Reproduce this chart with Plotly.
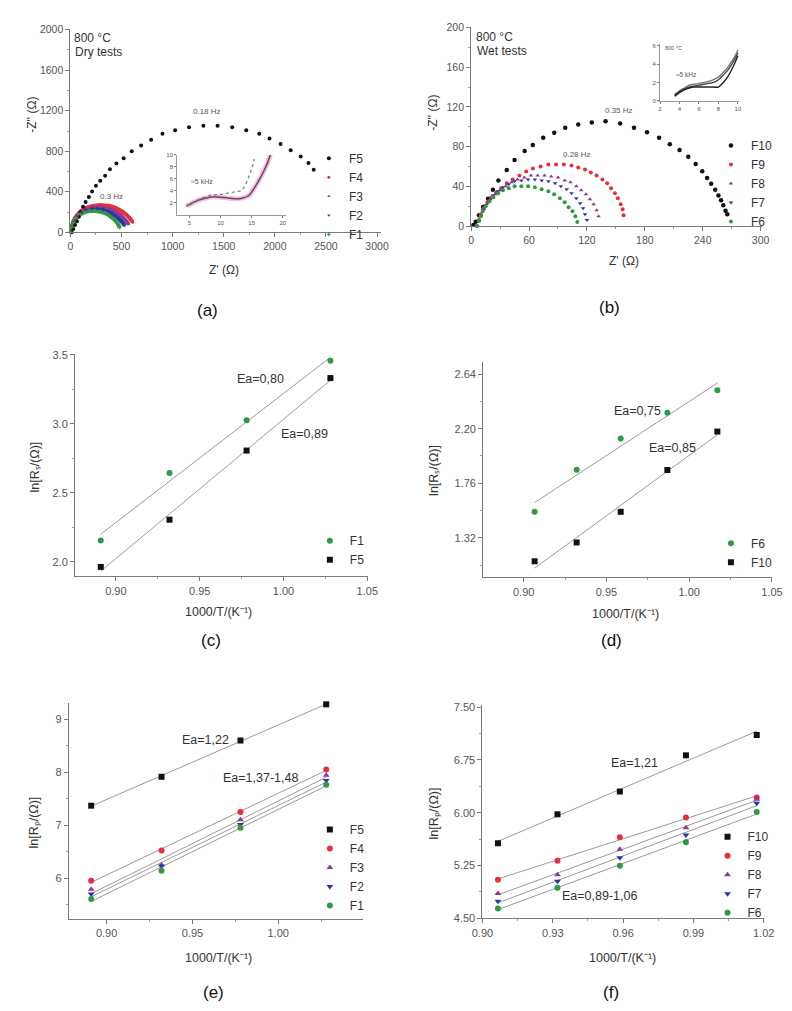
import numpy as np
import plotly.graph_objects as go

W, H = 792, 1011
FONT = "Liberation Sans, Arial, sans-serif"

# ---------------- data ----------------
# (a) Nyquist, dry tests, 800 C
A_F5_X = [12, 29, 45, 64, 83, 102, 124, 149, 181, 212, 250, 292, 340, 387, 450, 521, 600, 692, 790, 901,
          1025, 1161, 1301, 1440, 1583, 1720, 1847, 1948, 2056, 2155, 2253, 2329, 2380]
A_F5_Y = [0, 32, 71, 110, 153, 202, 251, 300, 348, 403, 459, 510, 559, 622, 680, 732, 800, 856, 914, 973,
          1008, 1038, 1051, 1051, 1038, 1008, 973, 925, 872, 810, 748, 683, 618]
A_F4_X = [0, 15, 35, 70, 120, 180, 250, 310, 370, 430, 490, 540, 580, 610]
A_F4_Y = [0, 60, 120, 175, 220, 250, 265, 268, 262, 245, 215, 180, 140, 100]
A_F3_X = [0, 15, 35, 70, 115, 170, 230, 290, 350, 410, 460, 510, 545, 571]
A_F3_Y = [0, 58, 112, 165, 205, 232, 245, 246, 238, 218, 188, 150, 112, 78]
A_F2_X = [0, 14, 33, 65, 105, 155, 210, 265, 320, 375, 425, 470, 505, 530]
A_F2_Y = [0, 55, 105, 155, 192, 215, 228, 228, 220, 200, 170, 135, 100, 65]
A_F1_X = [0, 13, 30, 60, 98, 145, 195, 245, 295, 345, 390, 430, 460, 482]
A_F1_Y = [0, 50, 97, 143, 178, 200, 210, 210, 202, 185, 158, 125, 90, 46]
# inset of (a)
AI_LOW_X = [4.5, 5.5, 6.5, 7.5, 8.5, 9.5, 10.5, 11.5, 12.5, 13.5, 14.5, 15.5, 16.3, 17.0, 17.6, 18.0]
AI_LOW_Y = [1.5, 2.0, 2.5, 2.8, 3.0, 3.0, 2.9, 2.8, 2.7, 2.8, 3.2, 4.6, 6.0, 7.4, 8.8, 10.0]
AI_UP_X = [4.5, 5.5, 6.5, 7.5, 8.5, 9.5, 10.5, 11.5, 12.5, 13.4, 14.1, 14.7, 15.1, 15.4]
AI_UP_Y = [1.5, 2.1, 2.6, 3.0, 3.3, 3.4, 3.5, 3.7, 3.9, 4.1, 5.3, 6.8, 8.0, 9.3]

# (b) Nyquist, wet tests, 800 C
B_F10_X = [2.3, 4.7, 8.1, 12.4, 17.5, 22.5, 28.2, 36.9, 45, 55.5, 63.9, 74.7, 86.1, 97.5, 111, 125.1, 139.3,
           154.4, 168.8, 182.3, 194.8, 205.9, 216, 225, 232.7, 239.5, 244.5, 248.8, 252.9, 256.3, 259, 261.3,
           263.7, 265.5]
B_F10_Y = [1, 4.4, 11, 19.3, 27.6, 36.5, 45.8, 56.4, 66.4, 75.6, 81.6, 89, 93.9, 98.9, 102.2, 104.2, 105.5,
           103.2, 98.9, 94.5, 89, 82.3, 76.6, 69.7, 62.4, 55.1, 48.5, 42.5, 36.5, 30.8, 25.9, 20.9, 15.3, 12]
B_F9_X = [6, 8, 10, 13, 17, 21, 26, 31, 37, 43, 50, 57, 64, 72, 80, 88, 96, 104, 111, 118, 124, 130, 136, 141,
          145, 149, 152, 155, 157, 158]
B_F9_Y = [0, 6, 12, 18, 24, 29, 34, 38, 43, 47, 51, 55, 58, 60, 62, 62, 62, 61, 59, 57, 54, 51, 47, 43, 38, 33,
          28, 22, 17, 11]
B_F8_X = [6, 8, 10, 13, 16, 20, 25, 30, 36, 42, 48, 55, 62, 69, 76, 83, 90, 97, 103, 109, 114, 119, 123, 127,
          130, 132]
B_F8_Y = [0, 6, 11, 17, 22, 27, 32, 36, 40, 44, 47, 49, 51, 51, 51, 50, 49, 46, 44, 40, 36, 32, 27, 22, 16, 10]
B_F7_X = [6, 8, 10, 12, 15, 19, 23, 28, 33, 39, 45, 52, 59, 66, 73, 80, 87, 93, 99, 104, 109, 113, 116, 118, 120]
B_F7_Y = [0, 5, 10, 16, 21, 26, 31, 35, 39, 42, 45, 46, 47, 47, 46, 45, 43, 40, 37, 33, 28, 23, 18, 12, 6]
B_F6_X = [6, 8, 10, 12, 15, 19, 23, 28, 33, 39, 45, 52, 59, 66, 73, 80, 86, 92, 97, 101, 105, 108, 110]
B_F6_Y = [0, 5, 10, 15, 20, 25, 29, 33, 36, 38, 40, 40, 40, 39, 37, 35, 32, 28, 24, 19, 15, 10, 4]
# inset of (b)
BI_X = [3.5, 4.0, 4.5, 5.0, 5.5, 6.0, 6.5, 7.0, 7.5, 8.0, 8.5, 9.0, 9.5, 10.0]
BI_Y1 = [0.7, 1.1, 1.4, 1.7, 1.8, 1.9, 2.0, 2.1, 2.3, 2.6, 3.1, 3.7, 4.5, 5.5]
BI_Y2 = [0.6, 1.0, 1.3, 1.5, 1.6, 1.7, 1.8, 1.9, 2.0, 2.3, 2.8, 3.4, 4.2, 5.2]
BI_Y3 = [0.5, 0.9, 1.2, 1.4, 1.5, 1.5, 1.5, 1.5, 1.5, 1.5, 2.0, 2.7, 3.7, 4.9]

# Arrhenius plots
T_INV_4 = [0.891, 0.932, 0.978, 1.028]
T_INV_5 = [0.9066, 0.932, 0.9586, 0.9868, 1.017]
C_F1 = [2.155, 2.645, 3.027, 3.457]
C_F5 = [1.964, 2.306, 2.807, 3.332]
D_F6 = [1.530, 1.870, 2.122, 2.329, 2.510]
D_F10 = [1.131, 1.283, 1.530, 1.867, 2.177]
E_F5 = [7.367, 7.912, 8.596, 9.278]
E_F4 = [5.95, 6.52, 7.25, 8.05]
E_F3 = [5.79, 6.25, 7.10, 7.94]
E_F2 = [5.70, 6.23, 7.01, 7.84]
E_F1 = [5.61, 6.14, 6.95, 7.76]
F_F10 = [5.566, 5.977, 6.300, 6.814, 7.103]
F_F9 = [5.047, 5.318, 5.650, 5.930, 6.215]
F_F8 = [4.851, 5.117, 5.482, 5.785, 6.191]
F_F7 = [4.743, 5.027, 5.360, 5.682, 6.135]
F_F6 = [4.640, 4.935, 5.248, 5.580, 6.009]

BLACK, RED, PURPLE, BLUE, GREEN = "#111111", "#e5303a", "#8a3a96", "#2a36a8", "#2f9a3f"
LINE_GRAY = "#9a9a9a"

# ---------------- helpers (page pixel -> paper fraction) ----------------
def pxx(x):
    return x / W

def pyy(y):
    return 1 - y / H

def xdom(a, b):
    return [pxx(a), pxx(b)]

def ydom(top, bottom):
    return [pyy(bottom), pyy(top)]

fig = go.Figure()

def axis(domain, rng, tickvals, fmt=None, size=11, minor_dtick=None, anchor=None):
    d = dict(domain=domain, range=rng, showline=True, linecolor="#7a7a7a", linewidth=1,
             ticks="outside", ticklen=4, tickcolor="#7a7a7a", tickwidth=1,
             tickfont=dict(family=FONT, size=size, color="#555555"),
             showgrid=False, zeroline=False, tickvals=tickvals, anchor=anchor)
    if fmt is not None:
        d["tickformat"] = fmt
    if minor_dtick is not None:
        d["minor"] = dict(ticks="outside", ticklen=2, tickcolor="#9a9a9a", dtick=minor_dtick, showgrid=False)
    return d

layout_axes = {}
# (a)
layout_axes["xaxis"] = axis(xdom(61, 380), [0, 3038], [0, 500, 1000, 1500, 2000, 2500, 3000], size=10.5,
                            minor_dtick=250, anchor="y")
layout_axes["yaxis"] = axis(ydom(23, 229), [0, 2010], [0, 400, 800, 1200, 1600, 2000], size=10.5,
                            minor_dtick=200, anchor="x")
# (b)
layout_axes["xaxis2"] = axis(xdom(472.7, 771.7), [0, 301.7], [0, 60, 120, 180, 240, 300], size=10.5,
                             minor_dtick=30, anchor="y2")
layout_axes["yaxis2"] = axis(ydom(21, 222.7), [0, 200.7], [0, 40, 80, 120, 160, 200], size=10.5,
                             minor_dtick=20, anchor="x2")
# (c)
layout_axes["xaxis3"] = axis(xdom(65.7, 366.7), [0.8756, 1.0504], [0.90, 0.95, 1.00, 1.05], fmt=".2f",
                             minor_dtick=0.025, anchor="y3")
layout_axes["yaxis3"] = axis(ydom(351.7, 577.3), [1.895, 3.51], [2.0, 2.5, 3.0, 3.5], fmt=".1f",
                             minor_dtick=0.25, anchor="x3")
# (d)
layout_axes["xaxis4"] = axis(xdom(485, 781.7), [0.8755, 1.0500], [0.90, 0.95, 1.00, 1.05], fmt=".2f",
                             minor_dtick=0.025, anchor="y4")
layout_axes["yaxis4"] = axis(ydom(360, 578.3), [1.001, 2.74], [1.32, 1.76, 2.20, 2.64], fmt=".2f",
                             minor_dtick=0.22, anchor="x4")
# (e)
layout_axes["xaxis5"] = axis(xdom(59.3, 361.7), [0.8779, 1.0495], [0.90, 0.95, 1.00, 1.05], fmt=".2f",
                             minor_dtick=0.025, anchor="y5")
layout_axes["yaxis5"] = axis(ydom(705, 924), [5.23, 9.31], [6, 7, 8, 9], fmt="d",
                             minor_dtick=0.5, anchor="x5")
# (f)
layout_axes["xaxis6"] = axis(xdom(484.3, 774), [0.90, 1.0203], [0.90, 0.93, 0.96, 0.99, 1.02], fmt=".2f",
                             minor_dtick=0.015, anchor="y6")
layout_axes["yaxis6"] = axis(ydom(707.3, 923.3), [4.5, 7.53], [4.5, 5.25, 6.0, 6.75, 7.5], fmt=".2f",
                             minor_dtick=0.375, anchor="x6")
# inset (a)
layout_axes["xaxis7"] = axis(xdom(170.7, 283), [3.03, 20.6], [5, 10, 15, 20], size=6, anchor="y7")
layout_axes["yaxis7"] = axis(ydom(150.7, 211.5), [0, 10], [2, 4, 6, 8, 10], size=6, anchor="x7")
# inset (b)
layout_axes["xaxis8"] = axis(xdom(666.7, 748.3), [2, 10.16], [2, 4, 6, 8, 10], size=6, anchor="y8")
layout_axes["yaxis8"] = axis(ydom(38.3, 96), [0, 6.2], [0, 2, 4, 6], size=6, anchor="x8")
for k in ("xaxis7", "yaxis7", "xaxis8", "yaxis8"):
    layout_axes[k]["ticklen"] = 2
    layout_axes[k]["linecolor"] = "#999999"

# ---------------- traces ----------------
def mk(x, y, name, color, symbol, size, xa, ya, legend):
    fig.add_trace(go.Scatter(x=x, y=y, name=name, mode="markers", xaxis=xa, yaxis=ya, legend=legend,
                             cliponaxis=False,
                             marker=dict(color=color, symbol=symbol, size=size, line=dict(width=0))))

def band(x, y, color, xa, ya, width=3.5, dash="solid"):
    fig.add_trace(go.Scatter(x=x, y=y, mode="lines", xaxis=xa, yaxis=ya, showlegend=False,
                             line=dict(color=color, width=width, dash=dash, shape="spline"),
                             hoverinfo="skip"))

def fitline(x, y, xa, ya):
    p = np.polyfit(x, y, 1)
    xs = [min(x), max(x)]
    fig.add_trace(go.Scatter(x=xs, y=list(np.polyval(p, xs)), mode="lines", xaxis=xa, yaxis=ya,
                             showlegend=False, line=dict(color=LINE_GRAY, width=1), hoverinfo="skip"))

# (a)
for xs, ys, c in [(A_F4_X, A_F4_Y, RED), (A_F3_X, A_F3_Y, PURPLE), (A_F2_X, A_F2_Y, BLUE),
                  (A_F1_X, A_F1_Y, GREEN)]:
    band(xs, ys, c, "x", "y", width=4)
mk(A_F5_X, A_F5_Y, "F5", BLACK, "circle", 4, "x", "y", "legend")
mk(A_F4_X, A_F4_Y, "F4", RED, "circle", 3, "x", "y", "legend")
mk(A_F3_X, A_F3_Y, "F3", PURPLE, "triangle-up", 3, "x", "y", "legend")
mk(A_F2_X, A_F2_Y, "F2", BLUE, "triangle-down", 3, "x", "y", "legend")
mk(A_F1_X, A_F1_Y, "F1", GREEN, "cross", 3, "x", "y", "legend")
# inset (a)
band(AI_LOW_X, AI_LOW_Y, "#efc3d8", "x7", "y7", width=5)
band(AI_LOW_X, AI_LOW_Y, "#7d3b6e", "x7", "y7", width=1.5)
band(AI_UP_X, AI_UP_Y, "#5d8f80", "x7", "y7", width=1.3, dash="dot")

# (b)
mk(B_F10_X, B_F10_Y, "F10", BLACK, "circle", 4.5, "x2", "y2", "legend2")
mk(B_F9_X, B_F9_Y, "F9", RED, "circle", 4, "x2", "y2", "legend2")
mk(B_F8_X, B_F8_Y, "F8", PURPLE, "triangle-up", 4, "x2", "y2", "legend2")
mk(B_F7_X, B_F7_Y, "F7", BLUE, "triangle-down", 4, "x2", "y2", "legend2")
mk(B_F6_X, B_F6_Y, "F6", GREEN, "circle", 4, "x2", "y2", "legend2")
# inset (b)
band(BI_X, BI_Y1, "#777777", "x8", "y8", width=1.4)
band(BI_X, BI_Y2, "#444444", "x8", "y8", width=1.4)
band(BI_X, BI_Y3, "#222222", "x8", "y8", width=1.4)

# (c)
fitline(T_INV_4, C_F1, "x3", "y3")
fitline(T_INV_4, C_F5, "x3", "y3")
mk(T_INV_4, C_F1, "F1", GREEN, "circle", 6, "x3", "y3", "legend3")
mk(T_INV_4, C_F5, "F5", BLACK, "square", 6, "x3", "y3", "legend3")

# (d)
fitline(T_INV_5, D_F6, "x4", "y4")
fitline(T_INV_5, D_F10, "x4", "y4")
mk(T_INV_5, D_F6, "F6", GREEN, "circle", 6, "x4", "y4", "legend4")
mk(T_INV_5, D_F10, "F10", BLACK, "square", 6, "x4", "y4", "legend4")

# (e)
for ys in (E_F5, E_F4, E_F3, E_F2, E_F1):
    fitline(T_INV_4, ys, "x5", "y5")
mk(T_INV_4, E_F5, "F5", BLACK, "square", 6, "x5", "y5", "legend5")
mk(T_INV_4, E_F4, "F4", RED, "circle", 6, "x5", "y5", "legend5")
mk(T_INV_4, E_F3, "F3", PURPLE, "triangle-up", 6, "x5", "y5", "legend5")
mk(T_INV_4, E_F2, "F2", BLUE, "triangle-down", 6, "x5", "y5", "legend5")
mk(T_INV_4, E_F1, "F1", GREEN, "circle", 6, "x5", "y5", "legend5")

# (f)
for ys in (F_F10, F_F9, F_F8, F_F7, F_F6):
    fitline(T_INV_5, ys, "x6", "y6")
mk(T_INV_5, F_F10, "F10", BLACK, "square", 6, "x6", "y6", "legend6")
mk(T_INV_5, F_F9, "F9", RED, "circle", 6, "x6", "y6", "legend6")
mk(T_INV_5, F_F8, "F8", PURPLE, "triangle-up", 6, "x6", "y6", "legend6")
mk(T_INV_5, F_F7, "F7", BLUE, "triangle-down", 6, "x6", "y6", "legend6")
mk(T_INV_5, F_F6, "F6", GREEN, "circle", 6, "x6", "y6", "legend6")

# ---------------- annotations ----------------
ann = []

def page_text(x, y, s, size, color="#333333", xanchor="center", angle=0):
    ann.append(dict(x=pxx(x), y=pyy(y), xref="paper", yref="paper", text=s, showarrow=False,
                    xanchor=xanchor, yanchor="middle", textangle=angle,
                    font=dict(family=FONT, size=size, color=color)))

def data_text(x, y, s, size, xr, yr, color="#333333"):
    ann.append(dict(x=x, y=y, xref=xr, yref=yr, text=s, showarrow=False, xanchor="center",
                    yanchor="middle", font=dict(family=FONT, size=size, color=color)))

# panel letters
for (x, y, s) in [(202, 308, "(a)"), (615, 305, "(b)"), (205, 641.7, "(c)"), (616.7, 641.7, "(d)"),
                  (208.3, 998.3, "(e)"), (616.7, 998.3, "(f)")]:
    page_text(x, y, s, 17, color="#111111")

# axis titles
XT = "1000/T/(K⁻¹)"
page_text(218.3, 266.7, "Z' (Ω)", 12)
page_text(21.7, 110, "-Z'' (Ω)", 12, angle=-90)
page_text(630, 258.3, "Z' (Ω)", 12)
page_text(433.3, 108.3, "-Z'' (Ω)", 12, angle=-90)
page_text(213.3, 613.3, XT, 12.5)
page_text(25, 466.7, "ln[Rₛ/(Ω)]", 12.5, angle=-90)
page_text(631.7, 615, XT, 12.5)
page_text(435, 470, "ln[Rₛ/(Ω)]", 12.5, angle=-90)
page_text(213.3, 963.3, XT, 12.5)
page_text(23.3, 826.7, "ln[Rₚ/(Ω)]", 12.5, angle=-90)
page_text(628.3, 963.3, XT, 12.5)
page_text(435, 816.7, "ln[Rₚ/(Ω)]", 12.5, angle=-90)

# condition labels
page_text(63, 32, "800 °C", 12, xanchor="left")
page_text(64, 47, "Dry tests", 12, xanchor="left")
page_text(476, 31.7, "800 °C", 12, xanchor="left")
page_text(477, 46, "Wet tests", 12, xanchor="left")

# frequency labels
data_text(1340, 1188, "0.18 Hz", 8, "x", "y", color="#555555")
data_text(400, 350, "0.3 Hz", 8, "x", "y", color="#555555")
data_text(153.7, 116, "0.35 Hz", 8, "x2", "y2", color="#555555")
data_text(110, 72, "0.28 Hz", 8, "x2", "y2", color="#555555")
data_text(7.0, 5.5, "≈5 kHz", 7, "x7", "y7", color="#555555")
data_text(4.7, 2.9, "≈5 kHz", 6.5, "x8", "y8", color="#555555")
data_text(3.4, 5.8, "800 °C", 5.5, "x8", "y8", color="#555555")

# activation energies
data_text(0.9865, 3.328, "Ea=0,80", 12.5, "x3", "y3")
data_text(1.0127, 2.927, "Ea=0,89", 12.5, "x3", "y3")
data_text(0.9686, 2.342, "Ea=0,75", 12.5, "x4", "y4")
data_text(0.9902, 2.042, "Ea=0,85", 12.5, "x4", "y4")
data_text(0.9577, 8.607, "Ea=1,22", 12.5, "x5", "y5")
data_text(0.9898, 7.88, "Ea=1,37-1,48", 12.5, "x5", "y5")
data_text(0.9647, 6.706, "Ea=1,21", 12.5, "x6", "y6")
data_text(0.9501, 4.817, "Ea=0,89-1,06", 12.5, "x6", "y6")

# ---------------- legends ----------------
def leg(x, top):
    return dict(x=pxx(x), y=pyy(top), xanchor="left", yanchor="top", bgcolor="rgba(0,0,0,0)",
                borderwidth=0, font=dict(family=FONT, size=12, color="#333333"), tracegroupgap=0,
                itemwidth=30)

fig.update_layout(
    width=W, height=H, margin=dict(l=0, r=0, t=0, b=0),
    paper_bgcolor="white", plot_bgcolor="white",
    annotations=ann,
    legend=leg(306, 139.5), legend2=leg(719, 126.5), legend3=leg(307, 526.5),
    legend4=leg(719, 529), legend5=leg(307, 818.8), legend6=leg(715.5, 826),
    **layout_axes,
)

fig.write_html("out.html")
